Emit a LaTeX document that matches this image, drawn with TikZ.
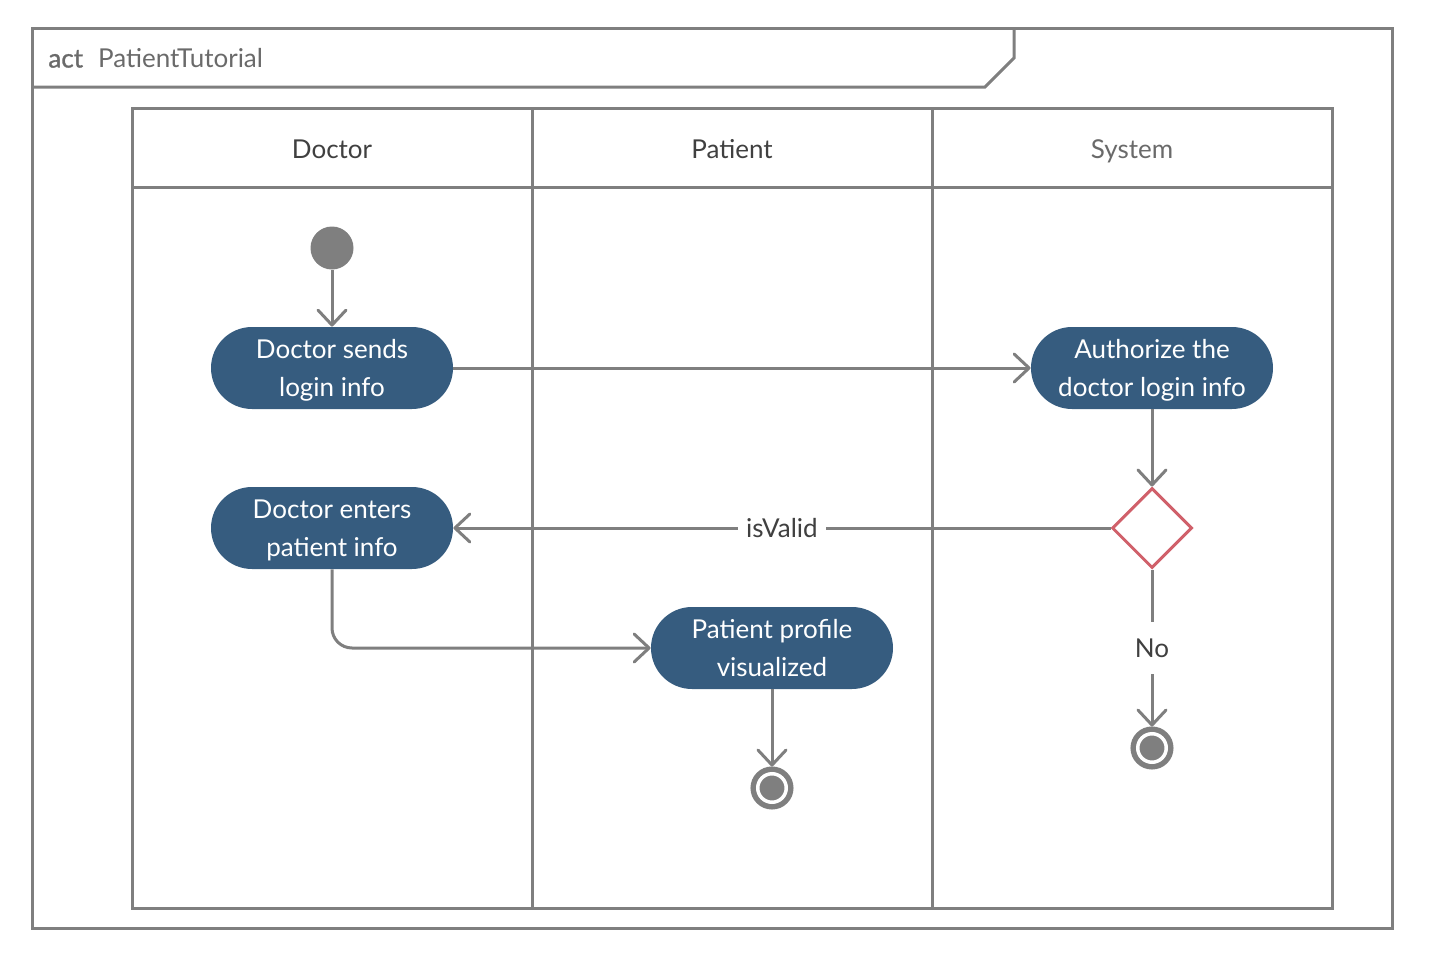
\documentclass[tikz,border=0pt]{standalone}
\usepackage{fontspec}
\setmainfont{Lato}
\newfontfamily\actfont{Lato}[FakeBold=1.2]
\usepackage{xcolor}
\usetikzlibrary{arrows.meta,positioning,shapes.geometric}
\definecolor{linegray}{HTML}{7F7F7F}
\definecolor{actblue}{HTML}{365C7F}
\definecolor{choicered}{HTML}{D0606A}
\definecolor{darktext}{HTML}{404040}
\definecolor{softtext}{HTML}{6A6A6A}
\tikzset{%
	outline/.style   = {draw=linegray, line width=1.5pt}, % Frame and lanes
	framelabel/.style= {text=softtext, inner sep=0pt, font=\fontsize{13pt}{19pt}\selectfont},
	lanehead/.style  = {text=darktext, anchor=base, font=\fontsize{13pt}{19pt}\selectfont},
	actnode/.style   = {fill=actblue, rectangle, rounded corners=20.5pt, minimum width=121pt, minimum height=41pt, text=white, align=center, text depth=0pt, font=\fontsize{13pt}{19pt}\selectfont},
	startdot/.style  = {fill=linegray, circle, minimum size=21.5pt, inner sep=0pt},
	enddot/.style    = {draw=linegray, fill=linegray, circle, line width=2.75pt, double=white, double distance=1.75pt, minimum size=14.25pt, inner sep=0pt, outer sep=3.6pt},
	choice/.style    = {draw=choicered, line width=1.5pt, diamond, minimum width=40pt, minimum height=40pt, inner sep=0pt},
}
\tikzset{%
	flow/.style      = {draw=linegray, line width=1.5pt, -{Straight Barb[length=7.5pt,width=14pt,round]}},
	guard/.style     = {fill=white, text=darktext, inner xsep=4pt, font=\fontsize{13pt}{19pt}\selectfont},
}

\begin{document}
\begin{tikzpicture}[x=0.5pt,y=-0.5pt,node distance=60pt]
	\useasboundingbox (0,0) rectangle (1432,964);
	% frame with its tab
	\draw [outline] (32,28) rectangle (1392,928);
	\draw [outline] (32,87) -- (985,87) -- (1014,58) -- (1014,28);
	\node [framelabel,anchor=west] (act) at (48,58) {{\actfont act}\hspace{7.5pt}PatientTutorial};
	% swimlanes
	\draw [outline] (132,108) rectangle (1332,908);
	\draw [outline] (132,187) -- (1332,187);
	\draw [outline] (532,108) -- (532,908);
	\draw [outline] (932,108) -- (932,908);
	\node [lanehead] (doc) at (332,158) {Doctor};
	\node [lanehead] (pat) at (732,158) {Patient};
	\node [lanehead,text=softtext] (sys) at (1132,158) {System};

	\node [startdot] (start) at (332,248) {};
	\node [actnode] (send) [below of=start] {Doctor sends\\login info};
	\node [actnode] (auth) [right of=send,node distance=410pt] {Authorize the\\doctor login info};
	\node [choice] (valid) [below of=auth,node distance=80pt] {};
	\node [enddot] (endsys) [below of=valid,node distance=110pt] {};
	\node [actnode] (enter) [below of=send,node distance=80pt] {Doctor enters\\patient info};
	\node [actnode] (show) at (772,648) {Patient profile\\visualized};
	\node [enddot] (endpat) [below of=show,node distance=70pt] {};

	\draw [flow] (start) -- (send);
	\draw [flow] (send) -- (auth);
	\draw [flow] (auth) -- (valid);
	\draw [flow] (valid) -- node [guard] {isValid} (enter);
	\draw [flow] (valid) -- node [guard,minimum height=26pt] {No} (endsys);
	\draw [flow,rounded corners=10pt] (enter) |- (show);
	\draw [flow] (show) -- (endpat);
\end{tikzpicture}
\end{document}
